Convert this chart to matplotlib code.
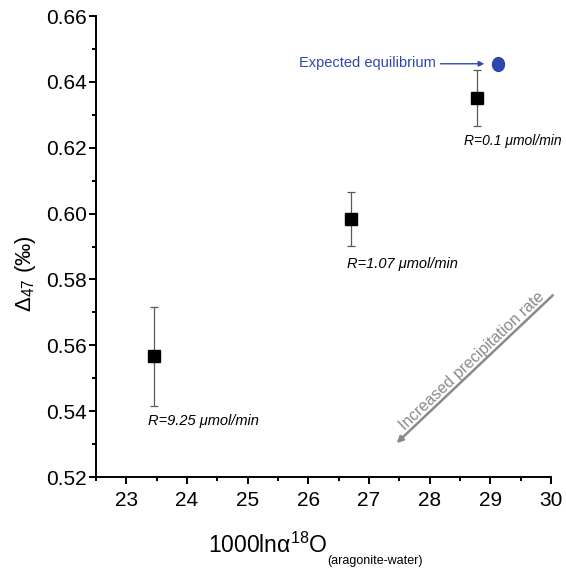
import matplotlib
matplotlib.use("Agg")
import numpy as np
import matplotlib.pyplot as plt
from matplotlib.ticker import MultipleLocator, FormatStrFormatter
from matplotlib.path import Path

FONT = "Liberation Sans"
plt.rcParams['font.family'] = [FONT, 'DejaVu Sans']
plt.rcParams['mathtext.fontset'] = 'custom'
plt.rcParams['mathtext.rm'] = FONT
plt.rcParams['mathtext.it'] = FONT + ':italic'
plt.rcParams['mathtext.default'] = 'regular'

# data
x_vals = [23.46, 26.71, 28.78]
y_vals = [0.5567, 0.5983, 0.6350]
y_err = [0.0150, 0.0082, 0.0085]
labels = ["R=9.25 μmol/min", "R=1.07 μmol/min", "R=0.1 μmol/min"]
eq_x = [29.12]
eq_y = [0.6455]

fig = plt.figure(figsize=(5.66, 5.72), dpi=100)
ax = fig.add_axes([0.1696, 0.166, 0.8039, 0.806])

# slightly tall ellipse marker
uc = Path.unit_circle()
ell = Path(uc.vertices * np.array([0.86, 1.0]), uc.codes)

ax.errorbar(x_vals, y_vals, yerr=y_err, fmt='none', ecolor='#5a5a5a',
            elinewidth=0.9, capsize=3, capthick=0.9, zorder=2)
ax.plot(x_vals, y_vals, 's', color='black', markersize=9, zorder=3)
ax.plot(eq_x, eq_y, marker=ell, linestyle='none', color='#2e46b0',
        markersize=10, zorder=3)

ax.set_xlim(22.5, 30)
ax.set_ylim(0.52, 0.66)
ax.xaxis.set_major_locator(MultipleLocator(1))
ax.xaxis.set_minor_locator(MultipleLocator(0.5))
ax.yaxis.set_major_locator(MultipleLocator(0.02))
ax.yaxis.set_minor_locator(MultipleLocator(0.01))
ax.yaxis.set_major_formatter(FormatStrFormatter('%.2f'))
for s in ['top', 'right']:
    ax.spines[s].set_visible(False)
for s in ['left', 'bottom']:
    ax.spines[s].set_linewidth(1.4)
ax.tick_params(which='major', direction='out', length=5, width=1.4, labelsize=15, pad=1.5)
ax.tick_params(which='minor', direction='out', length=3, width=1.4)
ax.tick_params(axis='x', which='major', pad=5)

# point labels
offsets = [(-0.11, -0.0197), (-0.08, -0.0135), (-0.22, -0.0129)]
sizes = [10.5, 10.5, 10]
for xv, yv, lab, off, fs in zip(x_vals, y_vals, labels, offsets, sizes):
    ax.text(xv + off[0], yv + off[1], lab, fontsize=fs, style='italic',
            ha='left', va='center', clip_on=False)

# expected equilibrium
ax.annotate("", xy=(28.90, 0.6455), xytext=(28.18, 0.6455),
            arrowprops=dict(arrowstyle='-|>', color='#2e46b0', lw=1.0,
                            mutation_scale=8, shrinkA=0, shrinkB=0))
ax.text(28.11, 0.6458, "Expected equilibrium", color='#2e46b0', fontsize=10.5,
        ha='right', va='center')

# increased precipitation rate arrow
ax.annotate("", xy=(27.455, 0.5303), xytext=(30.03, 0.5752),
            arrowprops=dict(arrowstyle='-|>', color='#8a8a8a', lw=1.8,
                            mutation_scale=9, shrinkA=0, shrinkB=0),
            annotation_clip=False)
ax.text(28.78, 0.5535, "Increased precipitation rate", color='#8a8a8a',
        fontsize=11.5, rotation=43.5, rotation_mode='anchor',
        ha='center', va='bottom')

# y label
fig.text(26 / 566, 1 - 274 / 572, "Δ$_{47}$ (‰)", fontsize=16, rotation=90,
         ha='center', va='center')

# x label: main part + small subscript
main = fig.text(327 / 566, 1 - 553 / 572, "1000lnα$^{18}$O", fontsize=16.5,
                ha='right', va='baseline')
ax.annotate("(aragonite-water)", xy=(1, 0), xycoords=main,
            xytext=(0.5, -4.5), textcoords='offset points',
            fontsize=9, ha='left', va='baseline')

fig.savefig("out.png", dpi=100)
